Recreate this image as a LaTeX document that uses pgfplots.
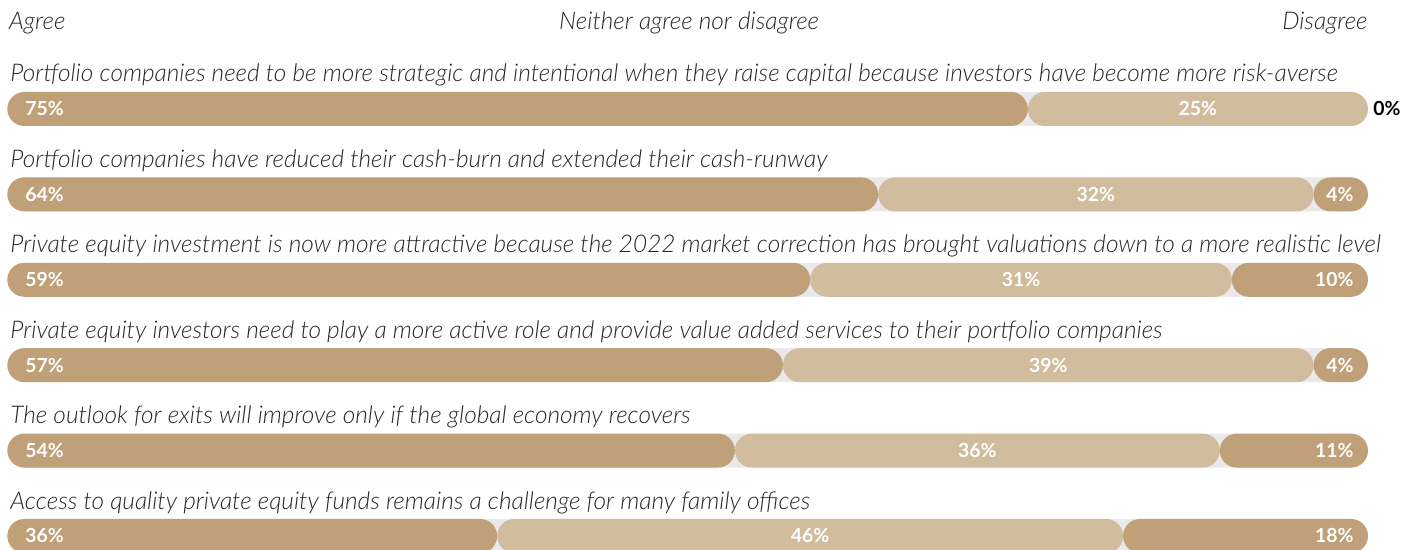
\documentclass[border=0pt]{standalone}
\usepackage{pgfplots}
\usepackage{pgfplotstable}
\pgfplotsset{compat=1.18}
\usepackage{fontspec}
\setmainfont{Lato}
\newfontfamily\lightit{Lato Light Italic}
\definecolor{agree}{HTML}{BFA078}
\definecolor{neutral}{HTML}{D1BC9E}
\definecolor{track}{HTML}{E9E9E9}
\definecolor{txt}{HTML}{262626}

% segment lengths (row 5 answers sum to 101 %, drawn scaled to 100 %)
\pgfplotstableread{
row agree neutral
0 75 25
1 64 32
2 59 31
3 57 39
4 53.47 35.64
5 36 46
}\bars

% disagree segments, drawn from the right end
\pgfplotstableread{
row disagree
1 4
2 10
3 4
4 10.89
5 18
}\disagree

\pgfplotstableread{
row xa la xn ln
0 1.3 75 87.5 25
1 1.3 64 80 32
2 1.3 59 74.5 31
3 1.3 57 76.5 39
4 1.3 54 71.29 36
5 1.3 36 59 46
}\labels

\pgfplotstableread{
row xd ld
1 98.97 4
2 98.97 10
3 98.97 4
4 98.97 11
5 98.97 18
}\dlabels

\pgfplotsset{base/.style={scale only axis, width=708pt, height=275pt,
  xmin=-0.54, xmax=103.53, ymin=-1.276, ymax=5.164, y dir=reverse,
  hide axis, at={(0,0)}, anchor=south west}}
\pgfplotsset{lab/.style={only marks, mark=*, mark size=0pt, mark options={draw=none,fill=none},
  nodes near coords={\pgfplotspointmeta\%}, point meta=explicit symbolic,
  every node near coord/.append style={font=\bfseries\fontsize{9.7}{11}\selectfont, text=white, inner sep=0pt}}}

\begin{document}
\begin{tikzpicture}
% track
\begin{axis}[base]
\addplot[xbar, bar width=17pt, fill=track, draw=none, rounded corners=8.5pt]
  coordinates {(100,0) (100,1) (100,2) (100,3) (100,4) (100,5)};
\end{axis}
% agree + neutral
\begin{axis}[base, xbar stacked, bar width=17pt]
\addplot[fill=agree, draw=none, rounded corners=8.5pt] table[x=agree, y=row] {\bars};
\addplot[fill=neutral, draw=none, rounded corners=8.5pt] table[x=neutral, y=row] {\bars};
\end{axis}
% disagree: mirrored axis, 0 at the 100 % end
\begin{axis}[base, x dir=reverse, xmin=-3.53, xmax=100.54]
\addplot[xbar, bar width=17pt, fill=agree, draw=none, rounded corners=8.5pt] table[x=disagree, y=row] {\disagree};
\end{axis}
% labels and texts
\begin{axis}[base, clip=false]
\addplot[lab, every node near coord/.append style={anchor=west}] table[x=xa, y=row, meta=la] {\labels};
\addplot[lab, every node near coord/.append style={anchor=center}] table[x=xn, y=row, meta=ln] {\labels};
\addplot[lab, every node near coord/.append style={anchor=east}] table[x=xd, y=row, meta=ld] {\dlabels};
\addplot[lab, every node near coord/.append style={anchor=west, text=black}] coordinates {(100.37,0) [0]};
\begin{scope}[every node/.style={font=\lightit\fontsize{12.2}{14}\selectfont, text=txt, inner sep=0pt}]
\node[anchor=base west] at (axis cs:0.1,-0.933) {Agree};
\node[anchor=base] at (axis cs:50.1,-0.933) {Neither agree nor disagree};
\node[anchor=base east] at (axis cs:100,-0.933) {Disagree};
\node[anchor=base west] at (axis cs:0.2,-0.316) {Portfolio companies need to be more strategic and intentional when they raise capital because investors have become more risk-averse};
\node[anchor=base west] at (axis cs:0.2,0.684) {Portfolio companies have reduced their cash-burn and extended their cash-runway};
\node[anchor=base west] at (axis cs:0.2,1.684) {Private equity investment is now more attractive because the 2022 market correction has brought valuations down to a more realistic level};
\node[anchor=base west] at (axis cs:0.2,2.684) {Private equity investors need to play a more active role and provide value added services to their portfolio companies};
\node[anchor=base west] at (axis cs:0.2,3.684) {The outlook for exits will improve only if the global economy recovers};
\node[anchor=base west] at (axis cs:0.2,4.684) {Access to quality private equity funds remains a challenge for many family offices};
\end{scope}
\end{axis}
\pgfresetboundingbox
\useasboundingbox (current axis.south west) rectangle (current axis.north east);
\end{tikzpicture}
\end{document}
